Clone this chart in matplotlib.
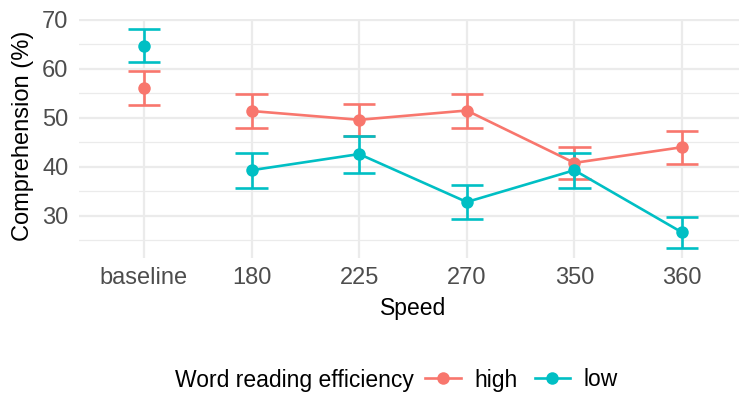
import matplotlib
matplotlib.use("Agg")
import matplotlib.pyplot as plt
from matplotlib.lines import Line2D
import numpy as np

categories = ["baseline", "180", "225", "270", "350", "360"]
high_mean = [56.1, 51.4, 49.6, 51.5, 40.8, 44.0]
high_lo   = [52.6, 48.0, 46.3, 48.0, 37.5, 40.6]
high_hi   = [59.5, 54.8, 52.9, 54.8, 44.1, 47.4]
low_mean  = [64.7, 39.3, 42.6, 32.8, 39.3, 26.6]
low_lo    = [61.4, 35.7, 38.8, 29.4, 35.7, 23.4]
low_hi    = [68.1, 42.8, 46.2, 36.3, 42.8, 29.7]
series_names = ["high", "low"]
colors = ["#F8766D", "#00BFC4"]

plt.rcParams['font.family'] = ['Liberation Sans', 'DejaVu Sans']

FS = 16.5
FT = 17
W, H = 739, 396
fig = plt.figure(figsize=(W/100, H/100), dpi=100)
left_px, right_px, top_px, bot_px = 79.4, 739, 19.0, 258.3
ax = fig.add_axes([left_px/W, 1 - bot_px/H, (right_px-left_px)/W, (bot_px-top_px)/H])

x = np.arange(1, len(categories)+1)
grid_c = "#EBEBEB"
for yv in [25, 35, 45, 55, 65]:
    ax.axhline(yv, color=grid_c, lw=0.9, zorder=0)
for yv in [30, 40, 50, 60, 70]:
    ax.axhline(yv, color=grid_c, lw=1.6, zorder=0)
for xv in x:
    ax.axvline(xv, color=grid_c, lw=1.6, zorder=0)

LW = 1.9
for means, lo, hi, c in [(high_mean, high_lo, high_hi, colors[0]), (low_mean, low_lo, low_hi, colors[1])]:
    means = np.array(means); lo = np.array(lo); hi = np.array(hi)
    ax.errorbar(x, means, yerr=[means-lo, hi-means], fmt='none', ecolor=c,
                elinewidth=LW, capsize=0, zorder=2)
    for xi, l, h in zip(x, lo, hi):
        ax.plot([xi-0.15, xi+0.15], [l, l], color=c, lw=LW, zorder=2, solid_capstyle='butt')
        ax.plot([xi-0.15, xi+0.15], [h, h], color=c, lw=LW, zorder=2, solid_capstyle='butt')
    ax.plot(x[1:], means[1:], color=c, lw=LW, zorder=3)
    ax.plot(x, means, 'o', color=c, ms=9, zorder=4, mec='none')

ax.set_xlim(0.4, 0.4 + (right_px-left_px)/107.6)
ax.set_ylim(21.3, 70.2)
ax.set_yticks([30, 40, 50, 60, 70])
ax.set_xticks(x)
ax.set_xticklabels(categories)
for s in ax.spines.values():
    s.set_visible(False)
ax.tick_params(length=0, labelsize=FT, labelcolor="#4D4D4D")
ax.tick_params(axis='y', pad=8)
ax.tick_params(axis='x', pad=6)

fig.text(413/W, 1 - 308/H, "Speed", fontsize=FS, va='center', ha='center')
fig.text(23/W, 1 - 136/H, "Comprehension (%)", fontsize=17, va='center', ha='center', rotation=90)

fig.text(175/W, 1 - 380/H, "Word reading efficiency", fontsize=FS, va='center', ha='left')
handles = [Line2D([0], [0], color=c, lw=LW, marker='o', ms=9, mec='none') for c in colors]
fig.legend(handles, series_names, ncol=2, loc='center left', bbox_to_anchor=(425/W, 1 - 380/H),
           frameon=False, fontsize=FS, handlelength=1.55, handletextpad=0.6, columnspacing=0.75,
           borderaxespad=0, borderpad=0)

fig.savefig("out.png", dpi=100)
